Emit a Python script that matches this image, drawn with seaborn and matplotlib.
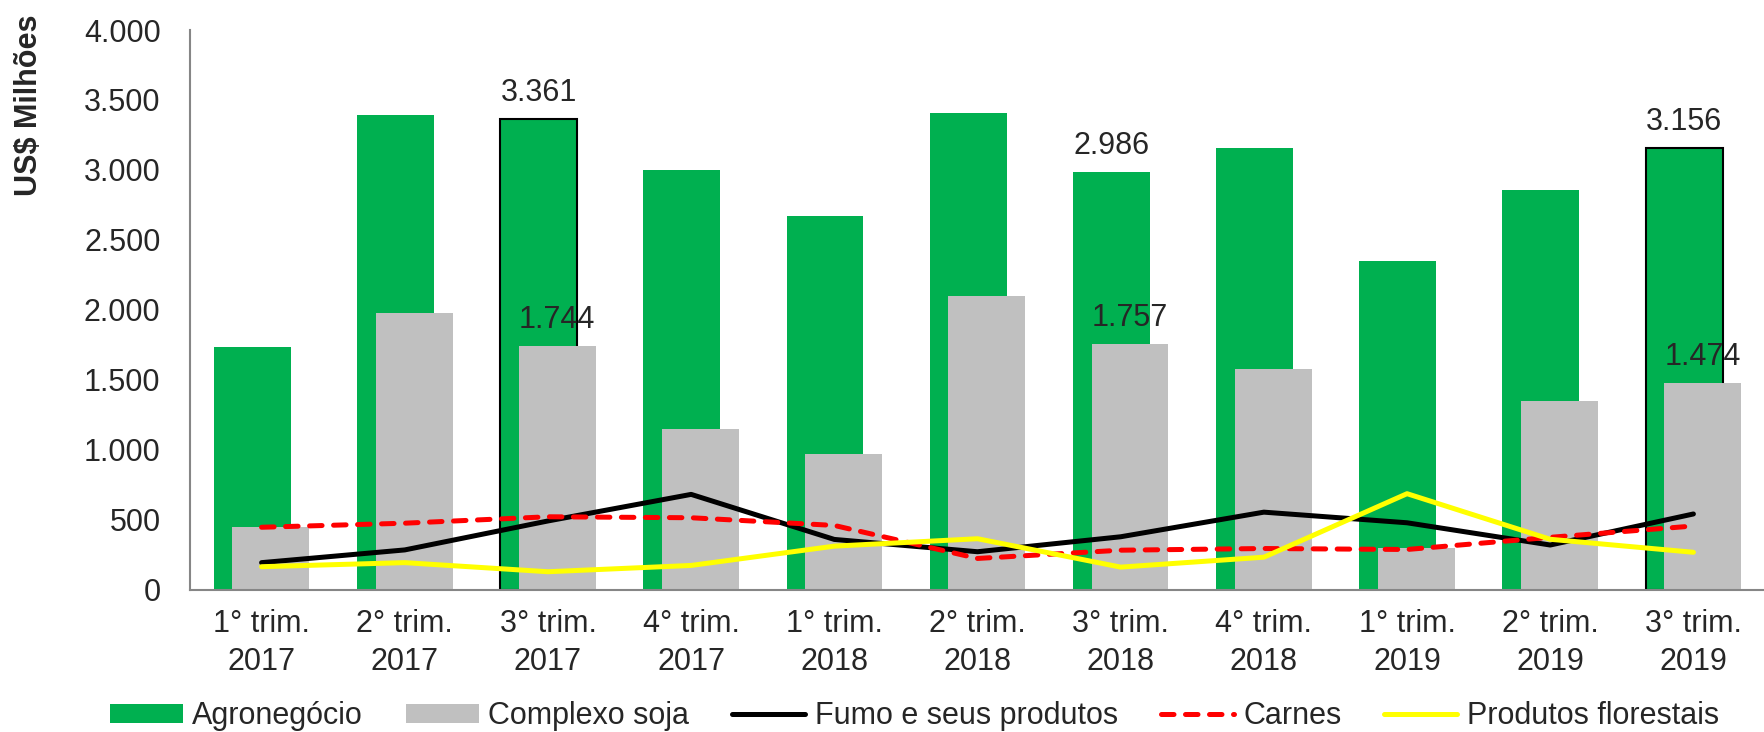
import numpy as np
import matplotlib
matplotlib.use("Agg")
import matplotlib.pyplot as plt
import seaborn as sns
from matplotlib.patches import Patch
from matplotlib.lines import Line2D
from matplotlib.ticker import FuncFormatter

# dados (US$ milhões)
trimestres = ["1° trim.\n2017", "2° trim.\n2017", "3° trim.\n2017", "4° trim.\n2017",
              "1° trim.\n2018", "2° trim.\n2018", "3° trim.\n2018", "4° trim.\n2018",
              "1° trim.\n2019", "2° trim.\n2019", "3° trim.\n2019"]
agronegocio = [1737, 3393, 3361, 2999, 2668, 3409, 2986, 3159, 2348, 2855, 3156]
complexo_soja = [447, 1978, 1744, 1149, 972, 2098, 1757, 1575, 300, 1350, 1474]
fumo = [192, 283, 490, 680, 358, 270, 377, 553, 477, 318, 540]
carnes = [445, 474, 520, 513, 458, 222, 281, 293, 286, 373, 454]
florestais = [163, 192, 127, 172, 310, 363, 160, 231, 685, 359, 266]
rotulados = [2, 6, 10]
contornados = [2, 10]

VERDE = "#00B050"
CINZA = "#C0C0C0"
EIXO = "#868686"
FS = 22

sns.set_style("white")
plt.rcParams['font.family'] = ['Liberation Sans', 'DejaVu Sans']

fig = plt.figure(figsize=(17.65, 7.32), dpi=100)
ax = fig.add_axes([190 / 1765, 1 - 589.5 / 732, 1 - 190 / 1765, (589.5 - 30) / 732])

idx = np.arange(len(trimestres))
desloc = 0.065
largura = 0.537

# barras sobrepostas
sns.barplot(x=idx - desloc, y=agronegocio, native_scale=True, width=largura,
            color=VERDE, saturation=1, edgecolor="none", ax=ax)
for i in contornados:
    ax.patches[i].set_edgecolor("black")
    ax.patches[i].set_linewidth(1.5)
sns.barplot(x=idx + desloc, y=complexo_soja, native_scale=True, width=largura,
            color=CINZA, saturation=1, edgecolor="none", ax=ax)

# linhas
LW = 3.6
sns.lineplot(x=idx, y=fumo, color="black", lw=LW, solid_capstyle="round", ax=ax)
sns.lineplot(x=idx, y=carnes, color="#FF0000", lw=LW, linestyle=(0, (2.5, 2.3)),
             dash_capstyle="round", ax=ax)
sns.lineplot(x=idx, y=florestais, color="#FFFF00", lw=LW, solid_capstyle="round", ax=ax)

fmt = lambda v: f"{v:,.0f}".replace(",", ".")

for i in rotulados:
    ax.annotate(fmt(agronegocio[i]), (i - desloc, agronegocio[i]), xytext=(0, 13),
                textcoords="offset points", ha="center", va="baseline", fontsize=FS)
    ax.annotate(fmt(complexo_soja[i]), (i + desloc, complexo_soja[i]), xytext=(0, 13),
                textcoords="offset points", ha="center", va="baseline", fontsize=FS)

# eixos
ax.set_xlim(-0.5, len(trimestres) - 0.5)
ax.set_ylim(0, 4000)
ax.set_yticks(np.arange(0, 4001, 500))
ax.yaxis.set_major_formatter(FuncFormatter(lambda v, p: fmt(v)))
ax.set_xticks(np.arange(-0.5, len(trimestres), 1))
ax.set_xticklabels([])
ax.set_xticks(idx, minor=True)
ax.set_xticklabels(trimestres, minor=True, fontsize=FS, linespacing=1.36)
ax.tick_params(axis="x", which="major", length=6.5, width=1.2, color=EIXO, direction="out")
ax.tick_params(axis="x", which="minor", length=0, pad=14)
ax.tick_params(axis="y", length=7.2, width=1.2, color=EIXO, direction="out", labelsize=FS, pad=14)
ax.set_xlabel("")
ax.set_ylabel("")
for lado in ["top", "right"]:
    ax.spines[lado].set_visible(False)
for lado in ["left", "bottom"]:
    ax.spines[lado].set_color(EIXO)
    ax.spines[lado].set_linewidth(1.5)

fig.text(29 / 1765, 1 - 105 / 732, "US$ Milhões", rotation=90, ha="center", va="center",
         fontsize=FS, fontweight="bold")

# legenda
handles = [
    Patch(facecolor=VERDE, edgecolor="none"),
    Patch(facecolor=CINZA, edgecolor="none"),
    Line2D([], [], color="black", lw=LW),
    Line2D([], [], color="#FF0000", lw=LW, linestyle=(0, (2.5, 2.3)), dash_capstyle="round"),
    Line2D([], [], color="#FFFF00", lw=LW),
]
labels = ["Agronegócio", "Complexo soja", "Fumo e seus produtos", "Carnes", "Produtos florestais"]
fig.legend(handles, labels, loc="center", bbox_to_anchor=(0.518, 1 - 716 / 732), ncol=5,
           frameon=False, fontsize=FS, handlelength=2.4, handleheight=0.57,
           handletextpad=0.3, columnspacing=1.4, borderpad=0)

fig.savefig("out.png", dpi=100)
